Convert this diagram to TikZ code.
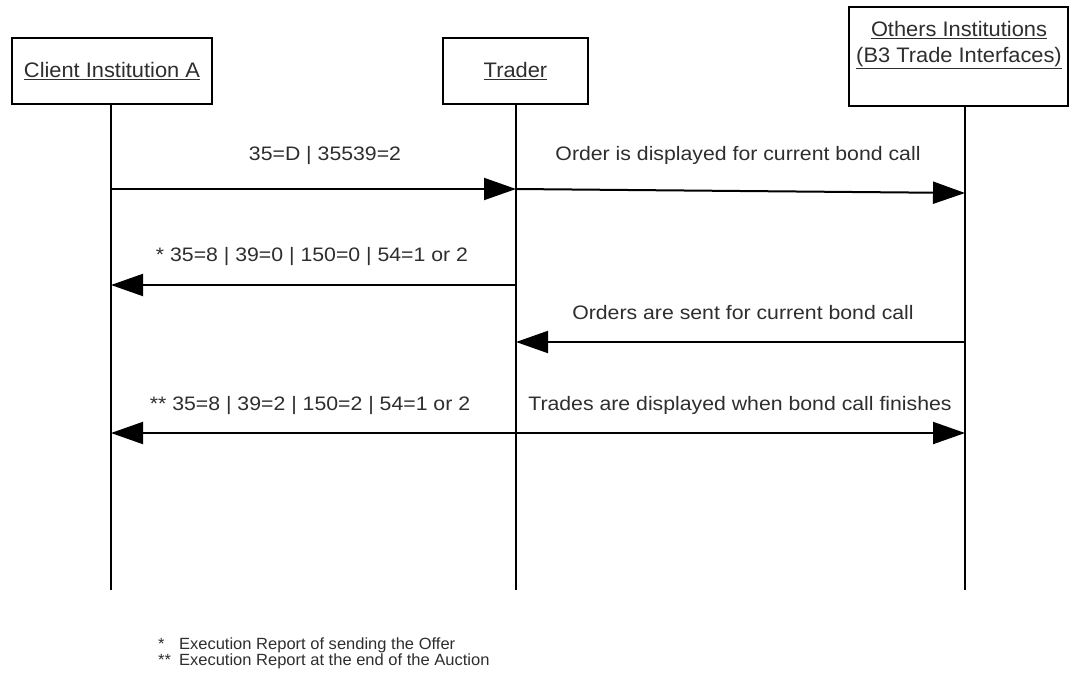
\documentclass[tikz,border=0pt]{standalone}
\usepackage{fontspec}
\setmainfont{Liberation Sans}
\newfontfamily\headfont[FakeStretch=1.04]{Liberation Sans}
\newfontfamily\lblfont[FakeStretch=1.09]{Liberation Sans}
\newfontfamily\notefont[FakeStretch=1.02]{Liberation Sans}
\usetikzlibrary{arrows.meta}
\definecolor{ink}{gray}{0.18}
\begin{document}
\begin{tikzpicture}[x=1pt,y=-1pt,
  actor/.style={draw=black, line width=2.4pt, fill=white, inner sep=0pt,
    text=ink, font=\headfont\fontsize{21}{26}\selectfont, align=center},
  lifeline/.style={draw=black, line width=1.8pt},
  msg/.style={draw=black, line width=2pt, -{Triangle[length=32pt,width=22pt]}},
  dmsg/.style={draw=black, line width=2pt, {Triangle[length=32pt,width=22pt]}-{Triangle[length=32pt,width=22pt]}},
  lbl/.style={text=ink, font=\lblfont\fontsize{19.5}{24}\selectfont, inner sep=0pt, anchor=base},
  note/.style={text=ink, font=\notefont\fontsize{16.2}{18.5}\selectfont, inner sep=0pt, anchor=north west, align=left}]
\useasboundingbox (0,0) rectangle (1070,680);
\fill[white] (0,0) rectangle (1070,680);

% lifelines
\coordinate (ctop) at (111,104);
\coordinate (cbot) at (111,590);
\coordinate (ttop) at (516,104);
\coordinate (tbot) at (516,590);
\coordinate (otop) at (965,106);
\coordinate (obot) at (965,590);
\draw[lifeline] (ctop) -- (cbot);
\draw[lifeline] (ttop) -- (tbot);
\draw[lifeline] (otop) -- (obot);

% participant boxes
\node[actor, minimum width=200pt, minimum height=66pt] (client) at (112,71)
  {\underline{Client Institution A}};
\node[actor, minimum width=145pt, minimum height=66pt] (trader) at (515.5,71)
  {\underline{Trader}};
\draw[line width=2.4pt, fill=white] (849,7) rectangle (1068,106);
\node[text=ink, font=\headfont\fontsize{21}{26}\selectfont, align=center, anchor=north, inner sep=0pt]
  (others) at (959,21) {\underline{Others Institutions}\\\underline{(B3 Trade Interfaces)}};

% message anchor points
\coordinate (c1) at (111,189);
\coordinate (t1) at (516,189);
\coordinate (o1) at (965,193);
\coordinate (c2) at (111,285);
\coordinate (t2) at (516,285);
\coordinate (t3) at (516,342);
\coordinate (o3) at (965,342);
\coordinate (c4) at (111,433);
\coordinate (o4) at (965,433);

% messages
\draw[msg] (c1) -- (t1);
\draw[msg] (t1) -- (o1);
\draw[msg] (t2) -- (c2);
\draw[msg] (o3) -- (t3);
\draw[dmsg] (c4) -- (o4);

% message labels
\node[lbl] (l1) at (325,160) {35=D | 35539=2};
\node[lbl] (l2) at (738,160) {Order is displayed for current bond call};
\node[lbl] (l3) at (312,261) {* 35=8 | 39=0 | 150=0 | 54=1 or 2};
\node[lbl] (l4) at (743,319) {Orders are sent for current bond call};
\node[lbl] (l5) at (310,410) {** 35=8 | 39=2 | 150=2 | 54=1 or 2};
\node[lbl] (l6) at (740,410) {Trades are displayed when bond call finishes};

% footnotes
\node[note] (fn) at (158,636) {%
  \begin{tabular}{@{}l@{\hspace{8pt}}l@{}}
  * & Execution Report of sending the Offer\\[-2.5pt]
  ** & Execution Report at the end of the Auction
  \end{tabular}};
\end{tikzpicture}
\end{document}
